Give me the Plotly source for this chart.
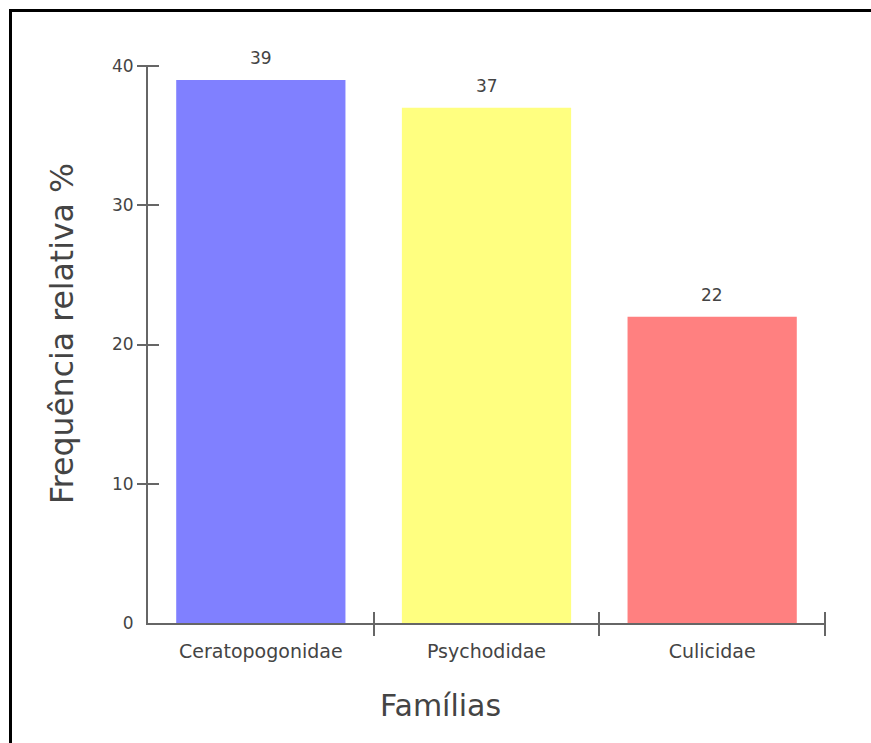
import plotly.graph_objects as go

# Relative frequency (%) of each family
familias = ["Ceratopogonidae", "Psychodidae", "Culicidae"]
frequencia = [39, 37, 22]
cores = ["#8080FF", "#FFFF80", "#FF8080"]
y_ticks = [0, 10, 20, 30, 40]

W, H = 871, 743
L, R, T, B = 148, 46, 66, 120
pw, ph = W - L - R, H - T - B

FONT = "DejaVu Sans, Verdana, sans-serif"
TXT = "#444444"
AX = "#666666"

fig = go.Figure()
fig.add_trace(go.Bar(
    x=familias, y=frequencia, marker=dict(color=cores, line=dict(width=0)),
    width=0.75, showlegend=False, hoverinfo="x+y",
))
# carrier trace for the overlay axes that draw the crossing tick marks
fig.add_trace(go.Scatter(x=[], y=[], xaxis="x2", yaxis="y2", showlegend=False,
                         hoverinfo="skip"))

# value labels above the bars
for f, v in zip(familias, frequencia):
    fig.add_annotation(x=f, y=v, text=str(v), showarrow=False, yanchor="bottom",
                       yshift=10, font=dict(family=FONT, size=17, color=TXT))

fig.update_layout(
    width=W, height=H, margin=dict(l=L, r=R, t=T, b=B),
    paper_bgcolor="white", plot_bgcolor="white",
    bargap=0.25,
    xaxis=dict(
        type="category", showgrid=False, zeroline=False,
        showline=True, linecolor=AX, linewidth=2,
        ticks="outside", ticklen=10, tickcolor="rgba(0,0,0,0)",
        tickfont=dict(family=FONT, size=19, color=TXT),
        range=[-0.5, 2.5], fixedrange=True,
    ),
    yaxis=dict(
        range=[0, 40], tickvals=y_ticks, showgrid=False, zeroline=False,
        showline=True, linecolor=AX, linewidth=2,
        ticks="outside", ticklen=9, tickcolor="rgba(0,0,0,0)",
        tickfont=dict(family=FONT, size=17, color=TXT), fixedrange=True,
    ),
    xaxis2=dict(
        overlaying="x", anchor="free", position=12 / ph, side="bottom",
        range=[-0.5, 2.5], tickvals=[0.5, 1.5, 2.5], showticklabels=False,
        ticks="outside", ticklen=24, tickwidth=2, tickcolor=AX,
        showline=False, showgrid=False, zeroline=False, fixedrange=True,
    ),
    yaxis2=dict(
        overlaying="y", anchor="free", position=11 / pw, side="left",
        range=[0, 40], tickvals=y_ticks[1:], showticklabels=False,
        ticks="outside", ticklen=22, tickwidth=2, tickcolor=AX,
        showline=False, showgrid=False, zeroline=False, fixedrange=True,
    ),
    shapes=[dict(
        type="rect", xref="paper", yref="paper",
        x0=(10.5 - L) / pw, x1=(W + 20 - L) / pw,
        y0=-(H + 20 - (H - B)) / ph, y1=(H - B - 10.5) / ph,
        line=dict(color="black", width=3), fillcolor="rgba(0,0,0,0)", layer="below",
    )],
)

fig.add_annotation(
    xref="paper", yref="paper", x=(440 - L) / pw, y=(H - B - 705) / ph,
    text="Famílias", showarrow=False, xanchor="center", yanchor="middle",
    font=dict(family=FONT, size=30, color=TXT),
)
fig.add_annotation(
    xref="paper", yref="paper", x=(62 - L) / pw, y=(H - B - 334) / ph,
    text="Frequência relativa %", textangle=-90, showarrow=False,
    xanchor="center", yanchor="middle",
    font=dict(family=FONT, size=31.5, color=TXT),
)

fig.write_html("out.html")
